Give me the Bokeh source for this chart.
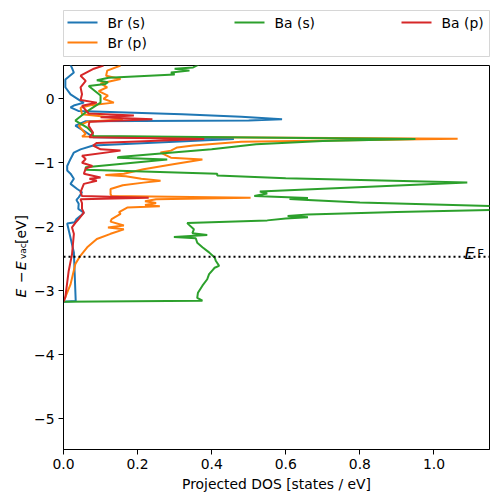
import math
from bokeh.plotting import figure
from bokeh.models import Range1d, FixedTicker, Span, Label, PrintfTickFormatter
from bokeh.layouts import column, row
from bokeh.core.properties import value
from bokeh.embed import file_html
from bokeh.resources import INLINE

# ---------------- data ----------------
br_s_energy = [-3.17, -3.16, -2.40, -2.00, -1.95, -1.93, -1.88, -1.83, -1.78, -1.72, -1.64, -1.58,
               -1.54, -1.46, -1.41, -1.33, -1.25, -1.17, -1.12, -1.05, -0.94, -0.84, -0.79, -0.73,
               -0.63, -0.60, -0.50, -0.42, -0.35, -0.34, -0.32, -0.28, -0.24, -0.19, -0.135, -0.10,
               -0.06, -0.03, 0.07, 0.18, 0.30, 0.41, 0.48, 0.53]
br_s_dos = [0.0, 0.033, 0.028, 0.012, 0.010, 0.030, 0.035, 0.046, 0.055, 0.040, 0.041, 0.035,
            0.041, 0.050, 0.037, 0.019, 0.028, 0.019, 0.010, 0.010, 0.019, 0.028, 0.046, 0.08,
            0.46, 0.08, 0.055, 0.032, 0.06, 0.50, 0.59, 0.48, 0.32, 0.04, 0.019, 0.03,
            0.055, 0.045, 0.019, 0.005, 0.005, 0.028, 0.023, 0.019]

br_p_energy = [-3.17, -2.90, -2.58, -2.45, -2.32, -2.19, -2.11, -2.04, -2.01, -1.98, -1.92, -1.88,
               -1.80, -1.77, -1.70, -1.68, -1.66, -1.63, -1.60, -1.57, -1.545, -1.52, -1.49, -1.41,
               -1.35, -1.31, -1.28, -1.25, -1.21, -1.19, -1.17, -1.10, -1.02, -0.95, -0.92, -0.84,
               -0.81, -0.76, -0.73, -0.67, -0.625, -0.59, -0.55, -0.42, -0.36, -0.32, -0.29, -0.24,
               -0.14, -0.10, -0.06, 0.00, 0.05, 0.12, 0.18, 0.24, 0.31, 0.36, 0.44, 0.52]
br_p_dos = [0.0, 0.019, 0.032, 0.046, 0.064, 0.09, 0.127, 0.163, 0.12, 0.163, 0.127, 0.13,
            0.154, 0.15, 0.172, 0.26, 0.22, 0.25, 0.22, 0.25, 0.505, 0.13, 0.127, 0.127,
            0.16, 0.216, 0.262, 0.21, 0.168, 0.113, 0.163, 0.216, 0.30, 0.375, 0.29, 0.262,
            0.29, 0.307, 0.35, 0.48, 1.064, 0.05, 0.06, 0.041, 0.064, 0.16, 0.127, 0.05,
            0.046, 0.073, 0.136, 0.108, 0.12, 0.095, 0.118, 0.10, 0.154, 0.115, 0.118, 0.154]

ba_s_energy = [-3.17, -3.155, -3.11, -3.03, -2.92, -2.82, -2.74, -2.68, -2.64, -2.61, -2.53, -2.48,
               -2.40, -2.32, -2.25, -2.18, -2.16, -2.13, -2.10, -2.04, -1.97, -1.94, -1.90, -1.87,
               -1.85, -1.83, -1.81, -1.77, -1.73, -1.70, -1.62, -1.58, -1.565, -1.55, -1.53, -1.52,
               -1.48, -1.45, -1.31, -1.24, -1.20, -1.17, -1.11, -1.07, -0.95, -0.92, -0.91, -0.79,
               -0.71, -0.66, -0.63, -0.58, -0.53, -0.45, -0.34, -0.21, -0.135, -0.06, 0.05, 0.20,
               0.23, 0.26, 0.29, 0.33, 0.38, 0.41, 0.44, 0.47, 0.49, 0.55]
ba_s_dos = [0.0, 0.375, 0.361, 0.363, 0.375, 0.388, 0.393, 0.402, 0.408, 0.42, 0.411, 0.408,
            0.393, 0.375, 0.361, 0.357, 0.298, 0.388, 0.348, 0.352, 0.339, 0.334, 0.55, 0.60,
            0.66, 0.605, 0.66, 0.90, 1.20, 1.30, 0.80, 0.66, 0.61, 0.66, 0.57, 0.515,
            0.55, 0.53, 1.09, 0.60, 0.415, 0.415, 0.06, 0.06, 0.28, 0.145, 0.15, 0.40,
            0.52, 0.70, 0.95, 0.08, 0.078, 0.064, 0.032, 0.06, 0.08, 0.10, 0.10, 0.068,
            0.113, 0.12, 0.09, 0.122, 0.30, 0.29, 0.34, 0.30, 0.35, 0.37]

ba_p_energy = [-3.17, -3.10, -2.69, -2.43, -2.11, -2.01, -1.94, -1.88, -1.78, -1.72, -1.63, -1.57,
               -1.545, -1.52, -1.46, -1.33, -1.28, -1.25, -1.23, -1.17, -1.09, -1.05, -1.00, -0.94,
               -0.89, -0.81, -0.79, -0.73, -0.69, -0.63, -0.60, -0.53, -0.42, -0.36, -0.32, -0.29,
               -0.26, -0.23, -0.11, -0.06, -0.02, 0.07, 0.18, 0.28, 0.36, 0.47, 0.52]
ba_p_dos = [0.0, 0.005, 0.014, 0.023, 0.028, 0.023, 0.032, 0.041, 0.055, 0.05, 0.05, 0.046,
            0.23, 0.05, 0.046, 0.055, 0.09, 0.07, 0.10, 0.055, 0.06, 0.078, 0.05, 0.06,
            0.05, 0.154, 0.10, 0.08, 0.09, 0.38, 0.07, 0.08, 0.068, 0.07, 0.24, 0.10,
            0.19, 0.068, 0.05, 0.09, 0.046, 0.05, 0.046, 0.06, 0.046, 0.082, 0.108]

series_labels = ["Br (s)", "Br (p)", "Ba (s)", "Ba (p)"]
series_colors = ["#1f77b4", "#ff7f0e", "#2ca02c", "#d62728"]
series_energy = [br_s_energy, br_p_energy, ba_s_energy, ba_p_energy]
series_dos = [br_s_dos, br_p_dos, ba_s_dos, ba_p_dos]

fermi_energy = -2.47
x_limits = (0.0, 1.15)
y_limits = (-5.48, 0.52)
x_ticks = [0.0, 0.2, 0.4, 0.6, 0.8, 1.0]
y_ticks = [-5, -4, -3, -2, -1, 0]
y_tick_labels = ["\u22125", "\u22124", "\u22123", "\u22122", "\u22121", "0"]
x_axis_title = "Projected DOS [states / eV]"

# ---------------- style / layout ----------------
FONT = "DejaVu Sans"
FS = "13.9px"
YLAB_W = 30
LEFT, RIGHT = 33, 5
FRAME_W, FRAME_H = 426, 384
LEG_TOP, LEG_H, LEG_BOTTOM = 10, 46, 4
MAIN_TOP, MAIN_BOTTOM = 5, 45
TOTAL_H = LEG_TOP + LEG_H + LEG_BOTTOM + MAIN_TOP + FRAME_H + MAIN_BOTTOM

# ---------------- main plot ----------------
p = figure(frame_width=FRAME_W, frame_height=FRAME_H,
           x_range=Range1d(*x_limits), y_range=Range1d(*y_limits),
           output_backend="svg", toolbar_location=None,
           min_border_left=LEFT, min_border_right=RIGHT,
           min_border_top=MAIN_TOP, min_border_bottom=MAIN_BOTTOM)
p.xgrid.visible = False
p.ygrid.visible = False
p.outline_line_color = "black"
p.outline_line_width = 1
p.outline_line_alpha = 1
p.background_fill_color = "white"
p.border_fill_color = "white"

p.xaxis.ticker = FixedTicker(ticks=x_ticks)
p.xaxis.formatter = PrintfTickFormatter(format="%.1f")
p.yaxis.ticker = FixedTicker(ticks=y_ticks)
p.yaxis.major_label_overrides = {t: s for t, s in zip(y_ticks, y_tick_labels)}
for ax in (p.xaxis[0], p.yaxis[0]):
    ax.major_tick_out = 5
    ax.major_tick_in = 0
    ax.minor_tick_out = 0
    ax.minor_tick_in = 0
    ax.major_tick_line_color = "black"
    ax.axis_line_color = "black"
    ax.major_label_text_font = FONT
    ax.major_label_text_font_size = FS
    ax.major_label_text_color = "black"
    ax.major_label_standoff = 4
p.xaxis.axis_label = x_axis_title
p.xaxis.axis_label_text_font = FONT
p.xaxis.axis_label_text_font_size = FS
p.xaxis.axis_label_text_font_style = "normal"
p.xaxis.axis_label_text_color = "black"
p.xaxis.axis_label_standoff = 4

for e, d, c in zip(series_energy, series_dos, series_colors):
    p.line(x=d, y=e, line_color=c, line_width=2)

p.add_layout(Span(location=fermi_energy, dimension="width", line_color="black",
                  line_width=2, line_dash="2 3"))

# E_F label at the right end of the Fermi line
p.add_layout(Label(x=x_limits[1] - 0.015, y=fermi_energy, text="E", x_offset=-9, y_offset=4,
                   text_align="right", text_baseline="alphabetic",
                   text_font=FONT, text_font_size="16.7px", text_font_style="italic",
                   text_color="black"))
p.add_layout(Label(x=x_limits[1] - 0.015, y=fermi_energy, text="F", x_offset=0, y_offset=3,
                   text_align="right", text_baseline="alphabetic",
                   text_font=FONT, text_font_size="11.7px", text_color="black"))

# ---------------- y-axis title strip:  E − E_vac [eV] ----------------
ylab = figure(frame_width=YLAB_W, frame_height=TOTAL_H,
              x_range=Range1d(0, YLAB_W), y_range=Range1d(0, TOTAL_H),
              output_backend="svg", toolbar_location=None,
              x_axis_type=None, y_axis_type=None, min_border=0)
ylab.outline_line_color = None
ylab.background_fill_color = "white"
ylab.border_fill_color = "white"
# (text, style, font size, baseline x, start position from top)
ylabel_parts = [("E", "italic", FS, 20, 297),
                ("\u2212", "normal", FS, 20, 282.5),
                ("E", "italic", FS, 20, 269.5),
                ("vac", "normal", "9px", 22, 258.5),
                ("[eV]", "normal", FS, 20, 243.5)]
for txt, style, size, bx, top in ylabel_parts:
    ylab.text(x=[bx], y=[TOTAL_H - top], text=[txt], angle=math.pi / 2,
              text_align="left", text_baseline="alphabetic",
              text_font=value(FONT), text_font_size=size,
              text_font_style=style, text_color="black")

# ---------------- legend (separate strip above the plot) ----------------
lg = figure(frame_width=FRAME_W, frame_height=LEG_H,
            x_range=Range1d(0, FRAME_W), y_range=Range1d(LEG_H, 0),
            output_backend="svg", toolbar_location=None,
            x_axis_type=None, y_axis_type=None,
            min_border_left=LEFT, min_border_right=RIGHT,
            min_border_top=LEG_TOP, min_border_bottom=LEG_BOTTOM)
lg.outline_line_color = "#cccccc"
lg.outline_line_alpha = 0.8
lg.outline_line_width = 1
lg.background_fill_color = "white"
lg.border_fill_color = "white"

ncol = 3
n = len(series_labels)
nrows, nlarge = divmod(n, ncol)
col_of, row_of = [], []
i = 0
for c in range(ncol):
    rows_here = nrows + 1 if c < nlarge else nrows
    for r in range(rows_here):
        if i < n:
            col_of.append(c)
            row_of.append(r)
            i += 1
col_pitch, row_pitch, pad_x, row0 = 167, 20, 4, 12
handle_len, text_gap = 30, 40
x0 = [pad_x + c * col_pitch for c in col_of]
x1 = [v + handle_len for v in x0]
yy = [row0 + r * row_pitch for r in row_of]
lg.segment(x0=x0, y0=yy, x1=x1, y1=yy, line_color=series_colors, line_width=2)
lg.text(x=[v + text_gap for v in x0], y=yy, text=series_labels,
        text_font=value(FONT), text_font_size=FS, text_baseline="middle",
        text_align="left", text_color="black")

layout = row(ylab, column(lg, p))
open("out.html", "w").write(file_html(layout, INLINE))
